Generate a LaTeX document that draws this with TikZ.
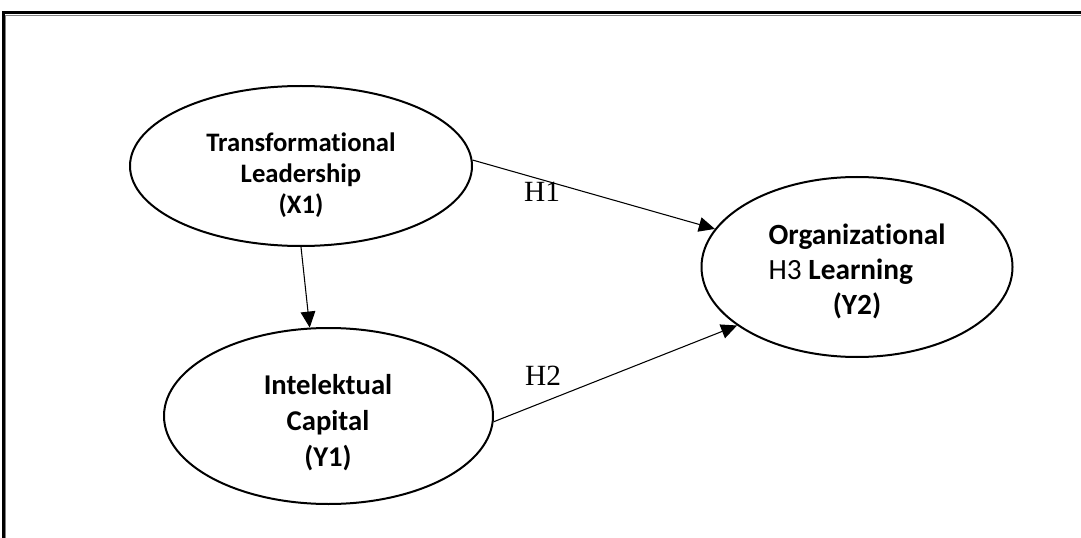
\documentclass[tikz,border=0pt]{standalone}
\usepackage{fontspec}
\usepackage{calc}
\setmainfont{Carlito}[Ligatures={NoCommon}]
\newfontfamily\timesfont{Liberation Serif}
\usetikzlibrary{shapes.geometric,arrows.meta}
\begin{document}
\begin{tikzpicture}[x=0.75pt,y=-0.75pt,
 latent/.style={draw,ellipse,line width=1.5pt,inner sep=0pt},
 nodetext/.style={align=center,inner sep=0pt},
 hyp/.style={font=\timesfont\fontsize{22}{24}\selectfont,inner sep=0pt},
 link/.style={line width=0.8pt,-{Triangle[length=12pt,width=11pt]}}]
\useasboundingbox (0,0) rectangle (1081,538);
\draw[line width=2pt] (3.5,545) -- (3.5,12.5) -- (1090,12.5);
\draw[line width=0.6pt,gray] (5.8,545) -- (5.8,15.2) -- (1090,15.2);

\node[latent,minimum width=256.5pt,minimum height=120pt] (X1) at (301,166) {};
\node[latent,minimum width=246.75pt,minimum height=132pt] (Y1) at (328.5,416) {};
\node[latent,minimum width=233.25pt,minimum height=135pt] (Y2) at (857,267) {};

\node[nodetext,font=\bfseries\fontsize{20}{23.25}\selectfont] (tX1) at (301,175) {Transformational\\Leadership\\(X1)};
\node[nodetext,font=\bfseries\fontsize{21.5}{27}\selectfont] (tY1) at (328,423) {Intelektual\\Capital\\(Y1)};
\node[nodetext,font=\bfseries\fontsize{22}{26.25}\selectfont] (tY2) at (857,271) {Organizational\\\makebox[\widthof{Organizational}][l]{\mdseries H3 \bfseries Learning}\\(Y2)};

\node[hyp] (H1) at (542,192) {H1};
\node[hyp] (H2) at (543,376) {H2};

\draw[link] (X1.2.3) -- (Y2.165.7);
\draw[link] (X1.south) -- (Y1.102.2);
\draw[link] (Y1.-2.4) -- (Y2.206.6);
\end{tikzpicture}
\end{document}
